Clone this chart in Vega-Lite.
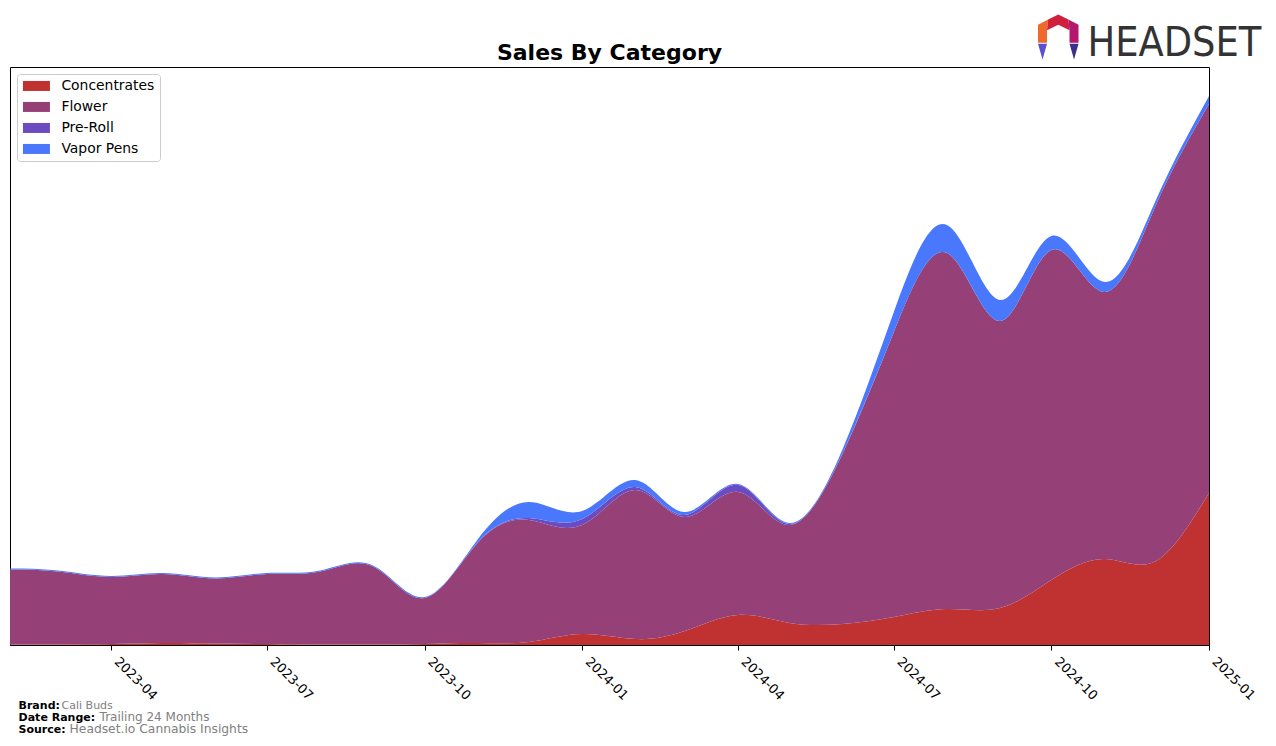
{
  "$schema": "https://vega.github.io/schema/vega-lite/v6.json",
  "width": 1199,
  "height": 578,
  "autosize": {"type": "none"},
  "padding": {"left": 10, "top": 67, "right": 67, "bottom": 101},
  "background": "white",
  "title": {"text": "Sales By Category", "fontSize": 22, "font": "DejaVu Sans", "fontWeight": "bold", "anchor": "middle", "offset": -50, "color": "black"},
  "config": {
    "view": {"stroke": "black", "strokeWidth": 1},
    "font": "DejaVu Sans",
    "axis": {"labelFont": "DejaVu Sans", "labelColor": "black", "tickColor": "black", "domainColor": "black", "grid": false},
    "legend": {
      "orient": "top-left", "offset": 7, "padding": 5, "strokeColor": "#cccccc", "cornerRadius": 3, "fillColor": "white",
      "labelFontSize": 13.9, "labelFont": "DejaVu Sans", "labelColor": "black",
      "symbolType": "M-2.7,-1H2.7V1H-2.7Z", "symbolSize": 100, "symbolStrokeWidth": 0, "symbolOpacity": 1,
      "symbolOffset": 7.5, "rowPadding": 6, "labelOffset": 18
    }
  },
  "datasets": {
    "sales": [
      {"month": "2023-02-01", "category": "Concentrates", "sales": 0.5},
      {"month": "2023-03-01", "category": "Concentrates", "sales": 0.5},
      {"month": "2023-04-01", "category": "Concentrates", "sales": 1},
      {"month": "2023-05-01", "category": "Concentrates", "sales": 2},
      {"month": "2023-06-01", "category": "Concentrates", "sales": 1.5},
      {"month": "2023-07-01", "category": "Concentrates", "sales": 1},
      {"month": "2023-08-01", "category": "Concentrates", "sales": 0.5},
      {"month": "2023-09-01", "category": "Concentrates", "sales": 0.5},
      {"month": "2023-10-01", "category": "Concentrates", "sales": 1},
      {"month": "2023-11-01", "category": "Concentrates", "sales": 2},
      {"month": "2023-12-01", "category": "Concentrates", "sales": 3},
      {"month": "2024-01-01", "category": "Concentrates", "sales": 11},
      {"month": "2024-02-01", "category": "Concentrates", "sales": 6},
      {"month": "2024-03-01", "category": "Concentrates", "sales": 14},
      {"month": "2024-04-01", "category": "Concentrates", "sales": 30},
      {"month": "2024-05-01", "category": "Concentrates", "sales": 22},
      {"month": "2024-06-01", "category": "Concentrates", "sales": 21},
      {"month": "2024-07-01", "category": "Concentrates", "sales": 28},
      {"month": "2024-08-01", "category": "Concentrates", "sales": 36},
      {"month": "2024-09-01", "category": "Concentrates", "sales": 37},
      {"month": "2024-10-01", "category": "Concentrates", "sales": 65},
      {"month": "2024-11-01", "category": "Concentrates", "sales": 86},
      {"month": "2024-12-01", "category": "Concentrates", "sales": 84},
      {"month": "2025-01-01", "category": "Concentrates", "sales": 152},
      {"month": "2023-02-01", "category": "Flower", "sales": 75},
      {"month": "2023-03-01", "category": "Flower", "sales": 73},
      {"month": "2023-04-01", "category": "Flower", "sales": 67},
      {"month": "2023-05-01", "category": "Flower", "sales": 69},
      {"month": "2023-06-01", "category": "Flower", "sales": 65},
      {"month": "2023-07-01", "category": "Flower", "sales": 70},
      {"month": "2023-08-01", "category": "Flower", "sales": 73},
      {"month": "2023-09-01", "category": "Flower", "sales": 78},
      {"month": "2023-10-01", "category": "Flower", "sales": 46},
      {"month": "2023-11-01", "category": "Flower", "sales": 100},
      {"month": "2023-12-01", "category": "Flower", "sales": 122},
      {"month": "2024-01-01", "category": "Flower", "sales": 109},
      {"month": "2024-02-01", "category": "Flower", "sales": 149},
      {"month": "2024-03-01", "category": "Flower", "sales": 114},
      {"month": "2024-04-01", "category": "Flower", "sales": 123},
      {"month": "2024-05-01", "category": "Flower", "sales": 98},
      {"month": "2024-06-01", "category": "Flower", "sales": 170},
      {"month": "2024-07-01", "category": "Flower", "sales": 285},
      {"month": "2024-08-01", "category": "Flower", "sales": 356},
      {"month": "2024-09-01", "category": "Flower", "sales": 287},
      {"month": "2024-10-01", "category": "Flower", "sales": 330},
      {"month": "2024-11-01", "category": "Flower", "sales": 267},
      {"month": "2024-12-01", "category": "Flower", "sales": 356},
      {"month": "2025-01-01", "category": "Flower", "sales": 389},
      {"month": "2023-02-01", "category": "Pre-Roll", "sales": 0},
      {"month": "2023-03-01", "category": "Pre-Roll", "sales": 0},
      {"month": "2023-04-01", "category": "Pre-Roll", "sales": 0},
      {"month": "2023-05-01", "category": "Pre-Roll", "sales": 0},
      {"month": "2023-06-01", "category": "Pre-Roll", "sales": 0},
      {"month": "2023-07-01", "category": "Pre-Roll", "sales": 0},
      {"month": "2023-08-01", "category": "Pre-Roll", "sales": 0},
      {"month": "2023-09-01", "category": "Pre-Roll", "sales": 0},
      {"month": "2023-10-01", "category": "Pre-Roll", "sales": 0},
      {"month": "2023-11-01", "category": "Pre-Roll", "sales": 0.5},
      {"month": "2023-12-01", "category": "Pre-Roll", "sales": 2},
      {"month": "2024-01-01", "category": "Pre-Roll", "sales": 6},
      {"month": "2024-02-01", "category": "Pre-Roll", "sales": 3},
      {"month": "2024-03-01", "category": "Pre-Roll", "sales": 2},
      {"month": "2024-04-01", "category": "Pre-Roll", "sales": 7},
      {"month": "2024-05-01", "category": "Pre-Roll", "sales": 1},
      {"month": "2024-06-01", "category": "Pre-Roll", "sales": 0.5},
      {"month": "2024-07-01", "category": "Pre-Roll", "sales": 0},
      {"month": "2024-08-01", "category": "Pre-Roll", "sales": 0},
      {"month": "2024-09-01", "category": "Pre-Roll", "sales": 0},
      {"month": "2024-10-01", "category": "Pre-Roll", "sales": 0},
      {"month": "2024-11-01", "category": "Pre-Roll", "sales": 0},
      {"month": "2024-12-01", "category": "Pre-Roll", "sales": 0},
      {"month": "2025-01-01", "category": "Pre-Roll", "sales": 0},
      {"month": "2023-02-01", "category": "Vapor Pens", "sales": 1},
      {"month": "2023-03-01", "category": "Vapor Pens", "sales": 1},
      {"month": "2023-04-01", "category": "Vapor Pens", "sales": 1},
      {"month": "2023-05-01", "category": "Vapor Pens", "sales": 1},
      {"month": "2023-06-01", "category": "Vapor Pens", "sales": 1},
      {"month": "2023-07-01", "category": "Vapor Pens", "sales": 1},
      {"month": "2023-08-01", "category": "Vapor Pens", "sales": 1},
      {"month": "2023-09-01", "category": "Vapor Pens", "sales": 1},
      {"month": "2023-10-01", "category": "Vapor Pens", "sales": 1},
      {"month": "2023-11-01", "category": "Vapor Pens", "sales": 3},
      {"month": "2023-12-01", "category": "Vapor Pens", "sales": 16},
      {"month": "2024-01-01", "category": "Vapor Pens", "sales": 8},
      {"month": "2024-02-01", "category": "Vapor Pens", "sales": 7},
      {"month": "2024-03-01", "category": "Vapor Pens", "sales": 3},
      {"month": "2024-04-01", "category": "Vapor Pens", "sales": 1},
      {"month": "2024-05-01", "category": "Vapor Pens", "sales": 1},
      {"month": "2024-06-01", "category": "Vapor Pens", "sales": 4},
      {"month": "2024-07-01", "category": "Vapor Pens", "sales": 20},
      {"month": "2024-08-01", "category": "Vapor Pens", "sales": 28},
      {"month": "2024-09-01", "category": "Vapor Pens", "sales": 21},
      {"month": "2024-10-01", "category": "Vapor Pens", "sales": 14},
      {"month": "2024-11-01", "category": "Vapor Pens", "sales": 10},
      {"month": "2024-12-01", "category": "Vapor Pens", "sales": 5},
      {"month": "2025-01-01", "category": "Vapor Pens", "sales": 8}
    ]
  },
  "layer": [
    {
      "data": {"name": "sales"},
      "mark": {"type": "area", "interpolate": "natural", "opacity": 1},
      "encoding": {
        "x": {
          "field": "month", "type": "temporal", "title": null,
          "scale": {"type": "utc", "nice": false, "domain": [{"year": 2023, "month": 2, "date": 1, "utc": true}, {"year": 2025, "month": 1, "date": 1, "utc": true}]},
          "axis": {
            "labelExpr": "utcFormat(datum.value, '%Y-%m')", "labelAngle": 45, "labelAlign": "left", "labelBaseline": "bottom", "labelPadding": 14,
            "labelFontSize": 13, "tickSize": 5, "labelOverlap": false, "labelBound": false, "labelFlush": false,
            "values": [
              {"year": 2023, "month": 4, "date": 1, "utc": true},
              {"year": 2023, "month": 7, "date": 1, "utc": true},
              {"year": 2023, "month": 10, "date": 1, "utc": true},
              {"year": 2024, "month": 1, "date": 1, "utc": true},
              {"year": 2024, "month": 4, "date": 1, "utc": true},
              {"year": 2024, "month": 7, "date": 1, "utc": true},
              {"year": 2024, "month": 10, "date": 1, "utc": true},
              {"year": 2025, "month": 1, "date": 1, "utc": true}
            ]
          }
        },
        "y": {"field": "sales", "type": "quantitative", "stack": "zero", "axis": null, "scale": {"domain": [0, 578], "nice": false, "zero": true}},
        "color": {
          "field": "category", "type": "nominal", "title": null,
          "scale": {"domain": ["Concentrates", "Flower", "Pre-Roll", "Vapor Pens"], "range": ["#c03232", "#954178", "#6b4bbf", "#4a78fc"]}
        },
        "order": {"field": "category", "sort": "ascending"}
      }
    },
    {
      "data": {"values": [{"t": "Brand:"}]},
      "mark": {"type": "text", "align": "left", "baseline": "alphabetic", "fontSize": 11, "fontWeight": "bold", "color": "black"},
      "encoding": {"x": {"datum": {"year": 2023, "month": 2, "date": 6, "utc": true}, "type": "temporal"}, "y": {"datum": -64, "type": "quantitative"}, "text": {"field": "t"}}
    },
    {
      "data": {"values": [{"t": "Cali Buds"}]},
      "mark": {"type": "text", "align": "left", "baseline": "alphabetic", "fontSize": 11, "color": "#808080", "dx": 43},
      "encoding": {"x": {"datum": {"year": 2023, "month": 2, "date": 6, "utc": true}, "type": "temporal"}, "y": {"datum": -64, "type": "quantitative"}, "text": {"field": "t"}}
    },
    {
      "data": {"values": [{"t": "Date Range:"}]},
      "mark": {"type": "text", "align": "left", "baseline": "alphabetic", "fontSize": 11, "fontWeight": "bold", "color": "black"},
      "encoding": {"x": {"datum": {"year": 2023, "month": 2, "date": 6, "utc": true}, "type": "temporal"}, "y": {"datum": -76, "type": "quantitative"}, "text": {"field": "t"}}
    },
    {
      "data": {"values": [{"t": "Trailing 24 Months"}]},
      "mark": {"type": "text", "align": "left", "baseline": "alphabetic", "fontSize": 12, "color": "#808080", "dx": 81},
      "encoding": {"x": {"datum": {"year": 2023, "month": 2, "date": 6, "utc": true}, "type": "temporal"}, "y": {"datum": -76, "type": "quantitative"}, "text": {"field": "t"}}
    },
    {
      "data": {"values": [{"t": "Source:"}]},
      "mark": {"type": "text", "align": "left", "baseline": "alphabetic", "fontSize": 11, "fontWeight": "bold", "color": "black"},
      "encoding": {"x": {"datum": {"year": 2023, "month": 2, "date": 6, "utc": true}, "type": "temporal"}, "y": {"datum": -88, "type": "quantitative"}, "text": {"field": "t"}}
    },
    {
      "data": {"values": [{"t": "Headset.io Cannabis Insights"}]},
      "mark": {"type": "text", "align": "left", "baseline": "alphabetic", "fontSize": 12.3, "color": "#808080", "dx": 51},
      "encoding": {"x": {"datum": {"year": 2023, "month": 2, "date": 6, "utc": true}, "type": "temporal"}, "y": {"datum": -88, "type": "quantitative"}, "text": {"field": "t"}}
    },
    {
      "data": {"values": [{"t": "HEADSET"}]},
      "mark": {"type": "text", "align": "left", "baseline": "alphabetic", "fontSize": 41, "font": "DejaVu Sans Condensed, Roboto, sans-serif", "color": "#333333"},
      "encoding": {"x": {"datum": {"year": 2024, "month": 10, "date": 22, "utc": true}, "type": "temporal"}, "y": {"datum": 589, "type": "quantitative"}, "text": {"field": "t"}}
    },
    {
      "data": {"values": [{"part": "left"}]},
      "mark": {"type": "point", "filled": true, "opacity": 1, "size": 2025, "color": "#ee6a2c", "shape": "M-0.9,-0.55L-0.45,-0.78L-0.5,-0.3L-0.5,0.25L-0.9,0.25Z"},
      "encoding": {"x": {"datum": {"year": 2024, "month": 10, "date": 5, "utc": true}, "type": "temporal"}, "y": {"datum": 608, "type": "quantitative"}}
    },
    {
      "data": {"values": [{"part": "top"}]},
      "mark": {"type": "point", "filled": true, "opacity": 1, "size": 2025, "color": "#d0203e", "shape": "M-0.45,-0.78L0,-1L0.45,-0.78L0.5,-0.3L0,-0.55L-0.5,-0.3Z"},
      "encoding": {"x": {"datum": {"year": 2024, "month": 10, "date": 5, "utc": true}, "type": "temporal"}, "y": {"datum": 608, "type": "quantitative"}}
    },
    {
      "data": {"values": [{"part": "right"}]},
      "mark": {"type": "point", "filled": true, "opacity": 1, "size": 2025, "color": "#b4176e", "shape": "M0.45,-0.78L0.9,-0.55L0.9,0.25L0.5,0.25L0.5,-0.3Z"},
      "encoding": {"x": {"datum": {"year": 2024, "month": 10, "date": 5, "utc": true}, "type": "temporal"}, "y": {"datum": 608, "type": "quantitative"}}
    },
    {
      "data": {"values": [{"part": "leftleg"}]},
      "mark": {"type": "point", "filled": true, "opacity": 1, "size": 2025, "color": "#5a4fcf", "shape": "M-0.9,0.3L-0.5,0.3L-0.7,1Z"},
      "encoding": {"x": {"datum": {"year": 2024, "month": 10, "date": 5, "utc": true}, "type": "temporal"}, "y": {"datum": 608, "type": "quantitative"}}
    },
    {
      "data": {"values": [{"part": "rightleg"}]},
      "mark": {"type": "point", "filled": true, "opacity": 1, "size": 2025, "color": "#3b2f8c", "shape": "M0.5,0.3L0.9,0.3L0.7,1Z"},
      "encoding": {"x": {"datum": {"year": 2024, "month": 10, "date": 5, "utc": true}, "type": "temporal"}, "y": {"datum": 608, "type": "quantitative"}}
    }
  ]
}
